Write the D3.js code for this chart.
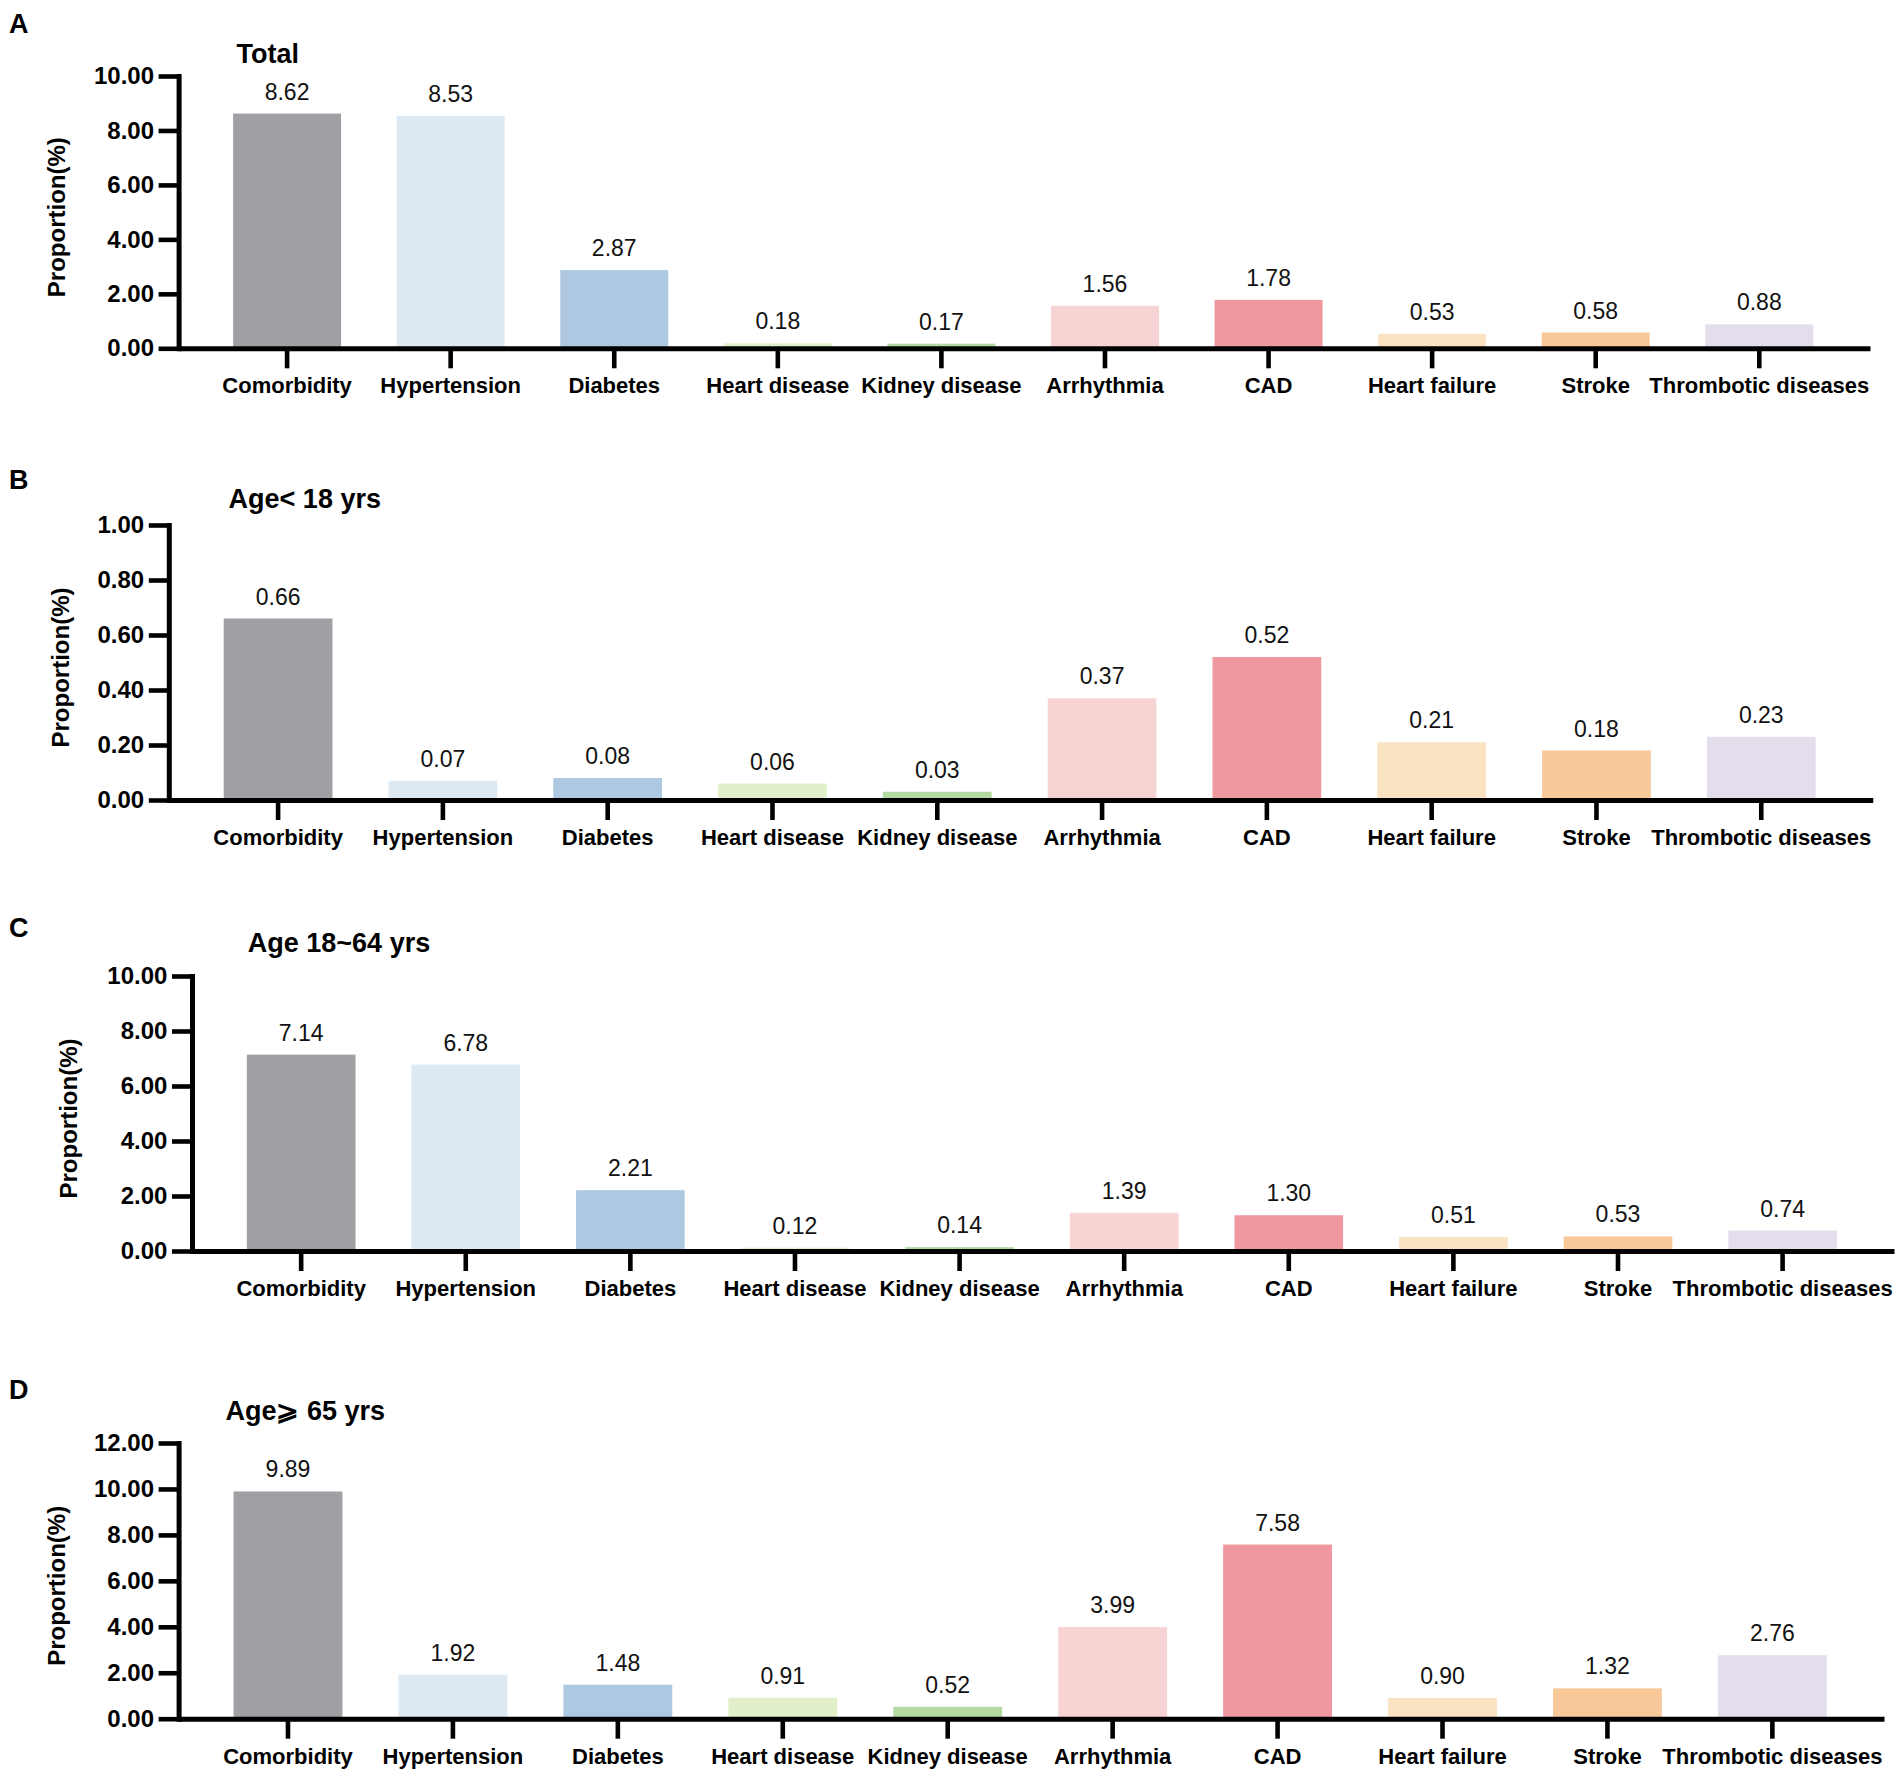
<!DOCTYPE html>
<html>
<head>
<meta charset="utf-8">
<script src="https://cdn.jsdelivr.net/npm/d3@7"></script>
<style>
  body { margin: 0; background: #fff; }
  svg { display: block; font-family: Arial, 'Liberation Sans', sans-serif; }
</style>
</head>
<body>
<div id="chart"></div>
<script>
const categories = ['Comorbidity', 'Hypertension', 'Diabetes', 'Heart disease', 'Kidney disease',
  'Arrhythmia', 'CAD', 'Heart failure', 'Stroke', 'Thrombotic diseases']
const colours = ['#a09fa4', '#ddeaf4', '#adc8e0', '#e1f0cb', '#b4d9a2',
  '#f8d3d3', '#ef98a0', '#fae3c2', '#f9c898', '#e4ddec']

const totalValues = [8.62, 8.53, 2.87, 0.18, 0.17, 1.56, 1.78, 0.53, 0.58, 0.88]
const under18Values = [0.66, 0.07, 0.08, 0.06, 0.03, 0.37, 0.52, 0.21, 0.18, 0.23]
const age18to64Values = [7.14, 6.78, 2.21, 0.12, 0.14, 1.39, 1.30, 0.51, 0.53, 0.74]
const over65Values = [9.89, 1.92, 1.48, 0.91, 0.52, 3.99, 7.58, 0.90, 1.32, 2.76]

const panelLetters = ['A', 'B', 'C', 'D']
const panelTitles = ['Total', 'Age< 18 yrs', 'Age 18~64 yrs', 'Age\u2A7E 65 yrs']
const yMaxes = [10, 1, 10, 12]
const yTickSteps = [2, 0.2, 2, 2]
const yLabel = 'Proportion(%)'

const panelValues = [totalValues, under18Values, age18to64Values, over65Values]

// where each panel sits on the page
const layout = [
  { x0: 178.6, x1: 1870, yTop: 76, yBase: 348.3, titleX: 236.6, titleY: 63.3, letterY: 32.7, yLabelX: 65 },
  { x0: 168.8, x1: 1872.8, yTop: 525, yBase: 800, titleX: 228.6, titleY: 508.3, letterY: 489, yLabelX: 69 },
  { x0: 192, x1: 1894, yTop: 976, yBase: 1251, titleX: 247.8, titleY: 951.7, letterY: 936.7, yLabelX: 76.5 },
  { x0: 178.6, x1: 1884, yTop: 1443, yBase: 1718.7, titleX: 225.4, titleY: 1420, letterY: 1398.7, yLabelX: 64.5 }
]

const svg = d3.select('#chart').append('svg')
  .attr('width', 1901)
  .attr('height', 1777)

svg.append('rect').attr('width', 1901).attr('height', 1777).attr('fill', '#fff')

panelValues.forEach((values, p) => {
  const L = layout[p]
  const g = svg.append('g')

  const x = d3.scaleBand()
    .domain(categories)
    .range([L.x0, L.x1])
    .paddingInner(0.34)
    .paddingOuter(0.34)
    .align(0.49)

  const y = d3.scaleLinear()
    .domain([0, yMaxes[p]])
    .range([L.yBase, L.yTop])

  const ticks = d3.range(0, yMaxes[p] + yTickSteps[p] / 2, yTickSteps[p])

  // Bars
  g.selectAll('rect.bar')
    .data(values)
    .join('rect')
    .attr('class', 'bar')
    .attr('x', (d, i) => x(categories[i]))
    .attr('width', x.bandwidth())
    .attr('y', d => y(d))
    .attr('height', d => y(0) - y(d))
    .attr('fill', (d, i) => colours[i])

  // Value labels
  g.selectAll('text.val')
    .data(values)
    .join('text')
    .attr('class', 'val')
    .attr('x', (d, i) => x(categories[i]) + x.bandwidth() / 2)
    .attr('y', d => y(d) - 14)
    .attr('text-anchor', 'middle')
    .style('font-size', '23px')
    .style('fill', '#111')
    .text(d => d.toFixed(2))

  // Y axis
  const gy = g.append('g')
    .attr('transform', `translate(${L.x0},0)`)
    .call(d3.axisLeft(y).tickValues(ticks).tickFormat(d3.format('.2f'))
      .tickSize(20).tickSizeOuter(0).tickPadding(4.6))
  gy.select('.domain').attr('stroke', '#000').attr('stroke-width', 5).attr('stroke-linecap', 'square')
  gy.selectAll('.tick line').attr('stroke', '#000').attr('stroke-width', 4.6)
  gy.selectAll('.tick text')
    .attr('fill', '#000')
    .style('font-size', '24px')
    .style('font-weight', 'bold')
    .style('font-family', 'Arial, "Liberation Sans", sans-serif')

  // X axis
  const gx = g.append('g')
    .attr('transform', `translate(0,${L.yBase})`)
    .call(d3.axisBottom(x).tickSize(20).tickSizeOuter(0).tickPadding(9.4))
  gx.select('.domain').attr('stroke', '#000').attr('stroke-width', 5)
  gx.selectAll('.tick line').attr('stroke', '#000').attr('stroke-width', 4.6)
  gx.selectAll('.tick text')
    .attr('fill', '#000')
    .style('font-size', '22px')
    .style('font-weight', 'bold')
    .style('font-family', 'Arial, "Liberation Sans", sans-serif')

  // Y label
  g.append('text')
    .attr('transform', `translate(${L.yLabelX},${(L.yTop + L.yBase) / 2 + 5}) rotate(-90)`)
    .attr('text-anchor', 'middle')
    .style('font-size', '24px')
    .style('font-weight', 'bold')
    .text(yLabel)

  // Title and panel letter
  g.append('text')
    .attr('x', L.titleX)
    .attr('y', L.titleY)
    .style('font-size', '27px')
    .style('font-weight', 'bold')
    .text(panelTitles[p])

  g.append('text')
    .attr('x', 9)
    .attr('y', L.letterY)
    .style('font-size', '27px')
    .style('font-weight', 'bold')
    .text(panelLetters[p])
})
</script>
</body>
</html>
